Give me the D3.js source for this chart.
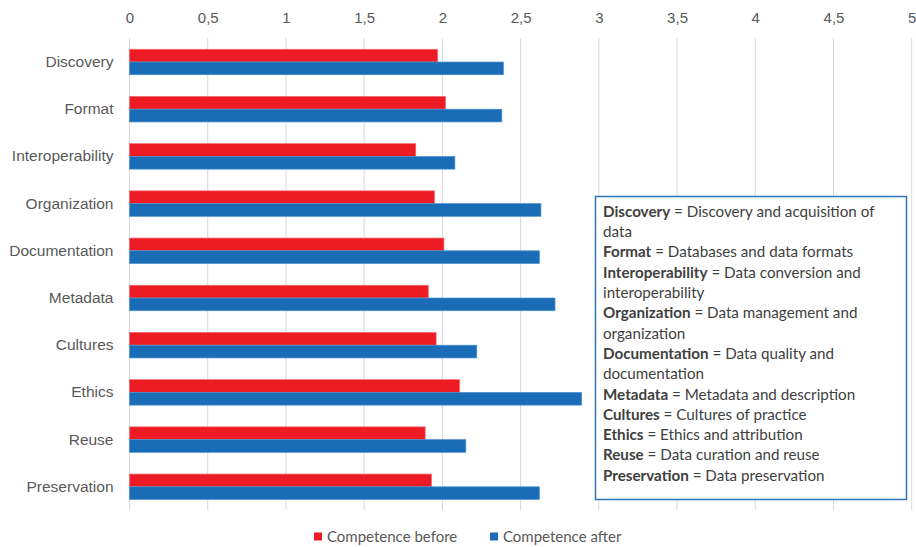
<!DOCTYPE html>
<html>
<head>
<meta charset="utf-8">
<script src="https://cdn.jsdelivr.net/npm/d3@7"></script>
<style>
  html, body { margin: 0; padding: 0; background: #fff; }
  svg { display: block; font-family: Lato, "Open Sans", sans-serif; }
</style>
</head>
<body>
<svg id="chart" width="916" height="547"></svg>
<script>
const categories = ["Discovery", "Format", "Interoperability", "Organization", "Documentation",
                    "Metadata", "Cultures", "Ethics", "Reuse", "Preservation"];
const competenceBefore = [1.97, 2.02, 1.83, 1.95, 2.01, 1.91, 1.96, 2.11, 1.89, 1.93];
const competenceAfter  = [2.39, 2.38, 2.08, 2.63, 2.62, 2.72, 2.22, 2.89, 2.15, 2.62];
const seriesNames = ["Competence before", "Competence after"];
const seriesColors = ["#ED1C24", "#1A6CB7"];
const seriesStrokes = ["#F36A70", "#4B93D3"];
const xTicks = [0, 0.5, 1, 1.5, 2, 2.5, 3, 3.5, 4, 4.5, 5];
const glossaryTerms = ["Discovery", "", "Format", "Interoperability", "", "Organization", "",
                       "Documentation", "", "Metadata", "Cultures", "Ethics", "Reuse", "Preservation"];
const glossaryTexts = [" = Discovery and acquisition of", "data", " = Databases and data formats",
                       " = Data conversion and", "interoperability", " = Data management and",
                       "organization", " = Data quality and", "documentation",
                       " = Metadata and description", " = Cultures of practice",
                       " = Ethics and attribution", " = Data curation and reuse", " = Data preservation"];

const svg = d3.select("#chart");

const x = d3.scaleLinear().domain([0, 5]).range([129.5, 911.7]);
const y = d3.scaleBand().domain(categories).range([38.4, 510.4]).paddingInner(0.46).paddingOuter(0.23);
const y1 = d3.scaleBand().domain(seriesNames).range([0, y.bandwidth()]);

// gridlines
svg.append("g").selectAll("line").data(xTicks).join("line")
  .attr("x1", d => x(d)).attr("x2", d => x(d))
  .attr("y1", 38.4).attr("y2", 510.4)
  .attr("stroke", "#D9D9D9").attr("stroke-width", 1);

// top axis
const xAxis = d3.axisTop(x).tickValues(xTicks).tickSize(0).tickPadding(0)
  .tickFormat(d => String(d).replace(".", ","));
const gx = svg.append("g").attr("transform", "translate(0,23)").call(xAxis);
gx.select(".domain").remove();
gx.selectAll("text").attr("fill", "#595959").attr("font-size", 15);

// category axis
const yAxis = d3.axisLeft(y).tickSize(0).tickPadding(0);
const gy = svg.append("g").attr("transform", "translate(113.5,0)").call(yAxis);
gy.select(".domain").remove();
gy.selectAll("text").attr("fill", "#595959").attr("font-size", 15.5);

// bars
const series = [competenceBefore, competenceAfter];
const groups = svg.append("g").selectAll("g").data(categories).join("g")
  .attr("transform", d => `translate(0,${y(d)})`);
groups.selectAll("rect").data((c, i) => series.map((s, k) => ({ k, v: s[i] }))).join("rect")
  .attr("x", x(0))
  .attr("y", d => y1(seriesNames[d.k]))
  .attr("width", d => x(d.v) - x(0))
  .attr("height", y1.bandwidth())
  .attr("fill", d => seriesColors[d.k])
  .attr("stroke", d => seriesStrokes[d.k])
  .attr("stroke-width", 0.7);

// glossary box
svg.append("rect").attr("x", 595.5).attr("y", 196.5).attr("width", 311).attr("height", 303)
  .attr("fill", "#fff").attr("stroke", "#2E75B6").attr("stroke-width", 1.5);
const gl = svg.append("g").attr("font-size", 15.2).attr("fill", "#404040");
glossaryTerms.forEach((t, i) => {
  const txt = gl.append("text").attr("x", 603).attr("y", 216.8 + i * 20.3);
  if (t) txt.append("tspan").attr("font-weight", "bold").text(t);
  txt.append("tspan").text(glossaryTexts[i]);
});

// bottom legend
const legendX = [314, 490];
const lg = svg.append("g");
seriesNames.forEach((n, i) => {
  lg.append("rect").attr("x", legendX[i]).attr("y", 532.5).attr("width", 8).attr("height", 8)
    .attr("fill", seriesColors[i]);
  lg.append("text").attr("x", legendX[i] + 13).attr("y", 542)
    .attr("font-size", 15).attr("fill", "#595959").text(n);
});
</script>
</body>
</html>
